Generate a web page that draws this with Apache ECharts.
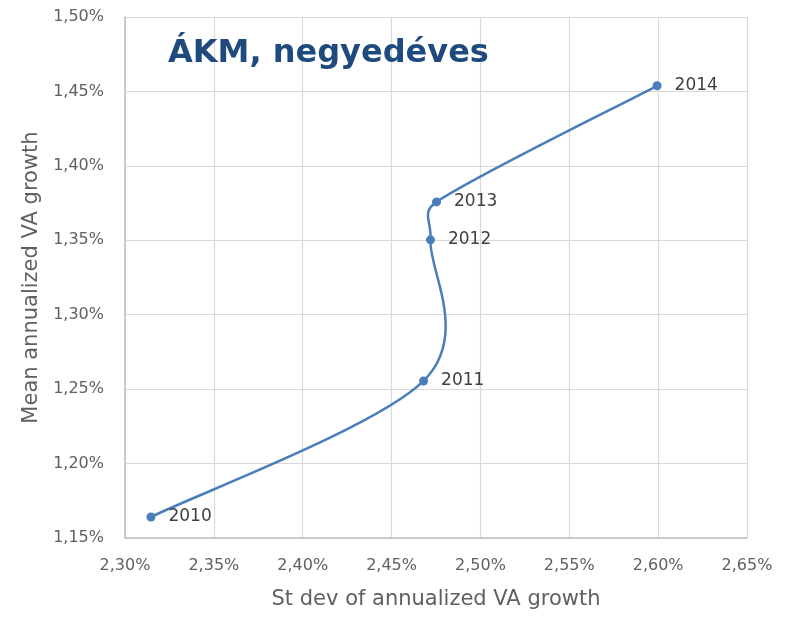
<!DOCTYPE html>
<html><head><meta charset="utf-8">
<script src="https://cdn.jsdelivr.net/npm/echarts@6/dist/echarts.min.js"></script>
<style>html,body{margin:0;padding:0;background:#fff}#c{width:789px;height:620px}</style>
</head><body><div id="c"></div>
<script>
const years = ['2010','2011','2012','2013','2014'];
const stdev = [2.3146, 2.468, 2.4719, 2.4753, 2.5994];
const mean = [1.1641, 1.2555, 1.3503, 1.3758, 1.4538];
const xTicks = [2.30, 2.35, 2.40, 2.45, 2.50, 2.55, 2.60, 2.65];
const yTicks = [1.15, 1.20, 1.25, 1.30, 1.35, 1.40, 1.45, 1.50];
const fmt = v => v.toFixed(2).replace('.', ',') + '%';
const chart = echarts.init(document.getElementById('c'));
const font = '"DejaVu Sans", sans-serif';
const lineColor = '#4a7ebb';
const pts = stdev.map((x, i) => [x, mean[i]]);

// Excel-style smoothed scatter line (Bezier through points, tangent (P2-P0)/6 capped at half segment)
function renderSeg(params, api) {
  const i = params.dataIndex, n = pts.length;
  if (i >= n - 1) return null;
  const P = k => api.coord(pts[Math.max(0, Math.min(n - 1, k))]);
  const p0 = P(i - 1), p1 = P(i), p2 = P(i + 1), p3 = P(i + 2);
  const d12 = Math.hypot(p2[0] - p1[0], p2[1] - p1[1]);
  function tan(a, b) {
    let tx = (b[0] - a[0]) / 6, ty = (b[1] - a[1]) / 6;
    const l = Math.hypot(tx, ty);
    if (l > d12 / 2 && l > 0) { const s = d12 / 2 / l; tx *= s; ty *= s; }
    return [tx, ty];
  }
  const t1 = tan(p0, p2), t2 = tan(p1, p3);
  return {
    type: 'bezierCurve',
    shape: {x1: p1[0], y1: p1[1], x2: p2[0], y2: p2[1],
      cpx1: p1[0] + t1[0], cpy1: p1[1] + t1[1], cpx2: p2[0] - t2[0], cpy2: p2[1] - t2[1]},
    style: {stroke: lineColor, lineWidth: 2.5, fill: null}
  };
}

chart.setOption({
  animation: false,
  title: {text: 'ÁKM, negyedéves', left: 163, top: 33,
    textStyle: {fontFamily: font, fontWeight: 'bold', fontSize: 32, color: '#1f4a7e'}},
  grid: {left: 125, top: 17, right: 42, bottom: 82},
  xAxis: {type: 'value', min: xTicks[0], max: xTicks[xTicks.length-1], interval: 0.05,
    name: 'St dev of annualized VA growth', nameLocation: 'middle', nameGap: 51,
    nameTextStyle: {fontFamily: font, fontSize: 21, color: '#606060'},
    axisLine: {lineStyle: {color: '#bfbfbf', width: 1.5}}, axisTick: {show: false},
    axisLabel: {formatter: fmt, fontFamily: font, fontSize: 16, color: '#606060', margin: 20},
    splitLine: {lineStyle: {color: '#d9d9d9', width: 1.2}}},
  yAxis: {type: 'value', min: yTicks[0], max: yTicks[yTicks.length-1], interval: 0.05,
    name: 'Mean annualized VA growth', nameLocation: 'middle', nameGap: 80,
    nameTextStyle: {fontFamily: font, fontSize: 21, color: '#606060'},
    axisLine: {show: true, lineStyle: {color: '#bfbfbf', width: 1.5}}, axisTick: {show: false},
    axisLabel: {formatter: fmt, fontFamily: font, fontSize: 16, color: '#606060', margin: 21},
    splitLine: {lineStyle: {color: '#d9d9d9', width: 1.2}}},
  series: [
    {type: 'custom', data: pts, encode: {x: 0, y: 1}, renderItem: renderSeg, silent: true, z: 2},
    {type: 'scatter', data: pts.map((p, i) => [p[0], p[1], years[i]]), symbol: 'circle', symbolSize: 9,
      itemStyle: {color: lineColor, opacity: 1}, z: 3,
      label: {show: true, position: 'right', distance: 13, formatter: p => p.data[2],
        fontFamily: font, fontSize: 17, color: '#404040'}}
  ]
});
</script></body></html>
